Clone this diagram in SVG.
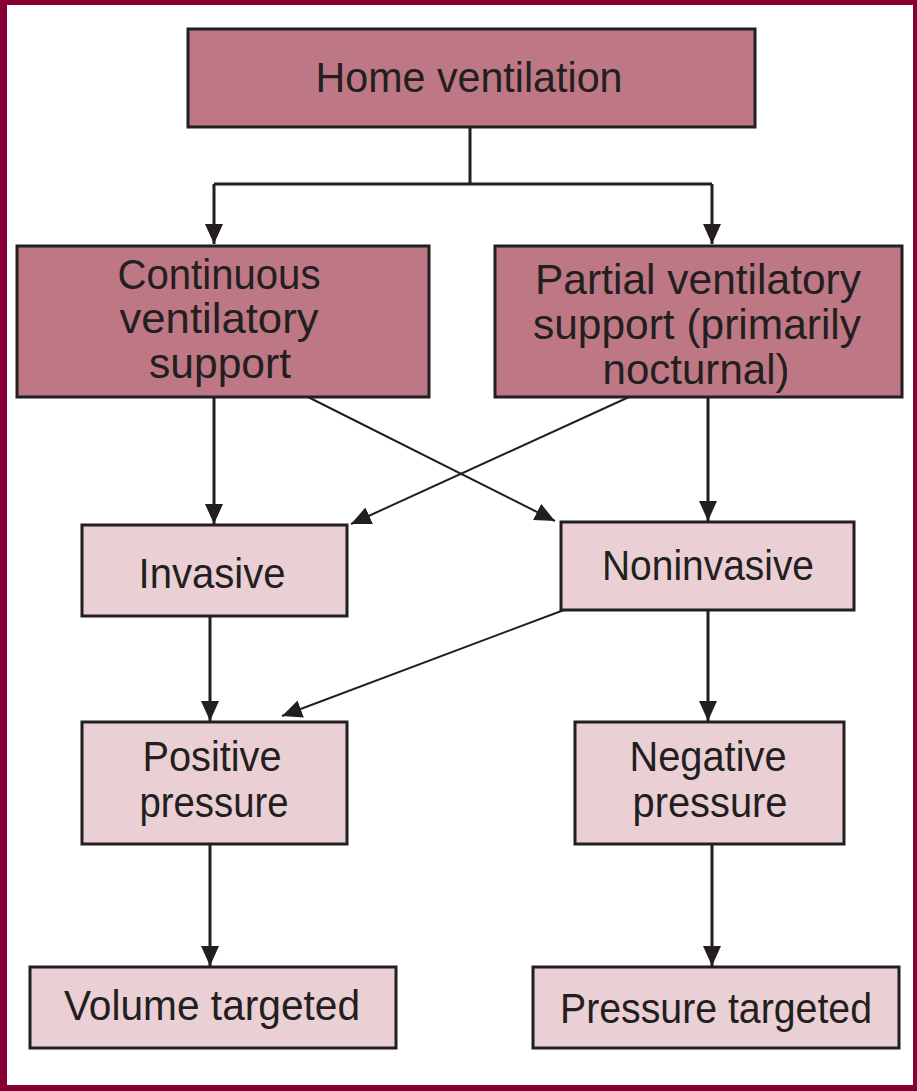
<svg xmlns="http://www.w3.org/2000/svg" width="917" height="1091" viewBox="0 0 917 1091">
<style>
.dark{fill:#be7785;stroke:#231f20;stroke-width:3}
.light{fill:#ead0d4;stroke:#231f20;stroke-width:3}
text{font-family:"Liberation Sans",Arial,sans-serif;font-size:42px;fill:#231f20;text-anchor:middle}
.c{fill:none;stroke:#231f20;stroke-width:3}
.d{fill:none;stroke:#231f20;stroke-width:2}
</style>
<defs>
<marker id="ah" markerUnits="userSpaceOnUse" viewBox="0 0 20 18" refX="20" refY="9" markerWidth="20" markerHeight="18" orient="auto">
<path d="M0,0 L20,9 L0,18 Z" fill="#231f20"/>
</marker>
</defs>
<rect x="0" y="0" width="917" height="1091" fill="#880033"/>
<rect x="7" y="5" width="906" height="1080" fill="#ffffff"/>
<g id="connectors">
<path class="c" d="M470,127 V184 M214,184 H712"/>
<path class="c" d="M214,184 V244" marker-end="url(#ah)"/>
<path class="c" d="M712,184 V244" marker-end="url(#ah)"/>
<path class="c" d="M214,397 V524" marker-end="url(#ah)"/>
<path class="c" d="M708,397 V521" marker-end="url(#ah)"/>
<path class="d" d="M308,397 L555,521" marker-end="url(#ah)"/>
<path class="d" d="M629,397 L351,524" marker-end="url(#ah)"/>
<path class="c" d="M210,616 V721" marker-end="url(#ah)"/>
<path class="c" d="M708,610 V721" marker-end="url(#ah)"/>
<path class="d" d="M564,610 L282,716" marker-end="url(#ah)"/>
<path class="c" d="M210,844 V966" marker-end="url(#ah)"/>
<path class="c" d="M712,844 V966" marker-end="url(#ah)"/>
</g>
<g id="home">
<rect class="dark" x="188" y="29" width="567" height="98"/>
<text x="469" y="92" textLength="307" lengthAdjust="spacingAndGlyphs">Home ventilation</text>
</g>
<g id="continuous">
<rect class="dark" x="17" y="246" width="412" height="151"/>
<text x="219" y="289" textLength="203" lengthAdjust="spacingAndGlyphs">Continuous</text>
<text x="219" y="333" textLength="199" lengthAdjust="spacingAndGlyphs">ventilatory</text>
<text x="220" y="378" textLength="142" lengthAdjust="spacingAndGlyphs">support</text>
</g>
<g id="partial">
<rect class="dark" x="495" y="246" width="407" height="151"/>
<text x="698" y="294" textLength="326" lengthAdjust="spacingAndGlyphs">Partial ventilatory</text>
<text x="697" y="339" textLength="328" lengthAdjust="spacingAndGlyphs">support (primarily</text>
<text x="696" y="384" textLength="187" lengthAdjust="spacingAndGlyphs">nocturnal)</text>
</g>
<g id="invasive">
<rect class="light" x="82" y="525" width="265" height="91"/>
<text x="212" y="588" textLength="147" lengthAdjust="spacingAndGlyphs">Invasive</text>
</g>
<g id="noninvasive">
<rect class="light" x="561" y="522" width="293" height="88"/>
<text x="708" y="580" textLength="212" lengthAdjust="spacingAndGlyphs">Noninvasive</text>
</g>
<g id="positive">
<rect class="light" x="82" y="722" width="265" height="122"/>
<text x="212" y="771" textLength="139" lengthAdjust="spacingAndGlyphs">Positive</text>
<text x="214" y="817" textLength="149" lengthAdjust="spacingAndGlyphs">pressure</text>
</g>
<g id="negative">
<rect class="light" x="575" y="722" width="269" height="122"/>
<text x="708" y="771" textLength="157" lengthAdjust="spacingAndGlyphs">Negative</text>
<text x="710" y="817" textLength="155" lengthAdjust="spacingAndGlyphs">pressure</text>
</g>
<g id="volume">
<rect class="light" x="30" y="967" width="366" height="81"/>
<text x="212" y="1020" textLength="296" lengthAdjust="spacingAndGlyphs">Volume targeted</text>
</g>
<g id="pressure-targeted">
<rect class="light" x="533" y="967" width="366" height="81"/>
<text x="716" y="1023" textLength="312" lengthAdjust="spacingAndGlyphs">Pressure targeted</text>
</g>
</svg>
